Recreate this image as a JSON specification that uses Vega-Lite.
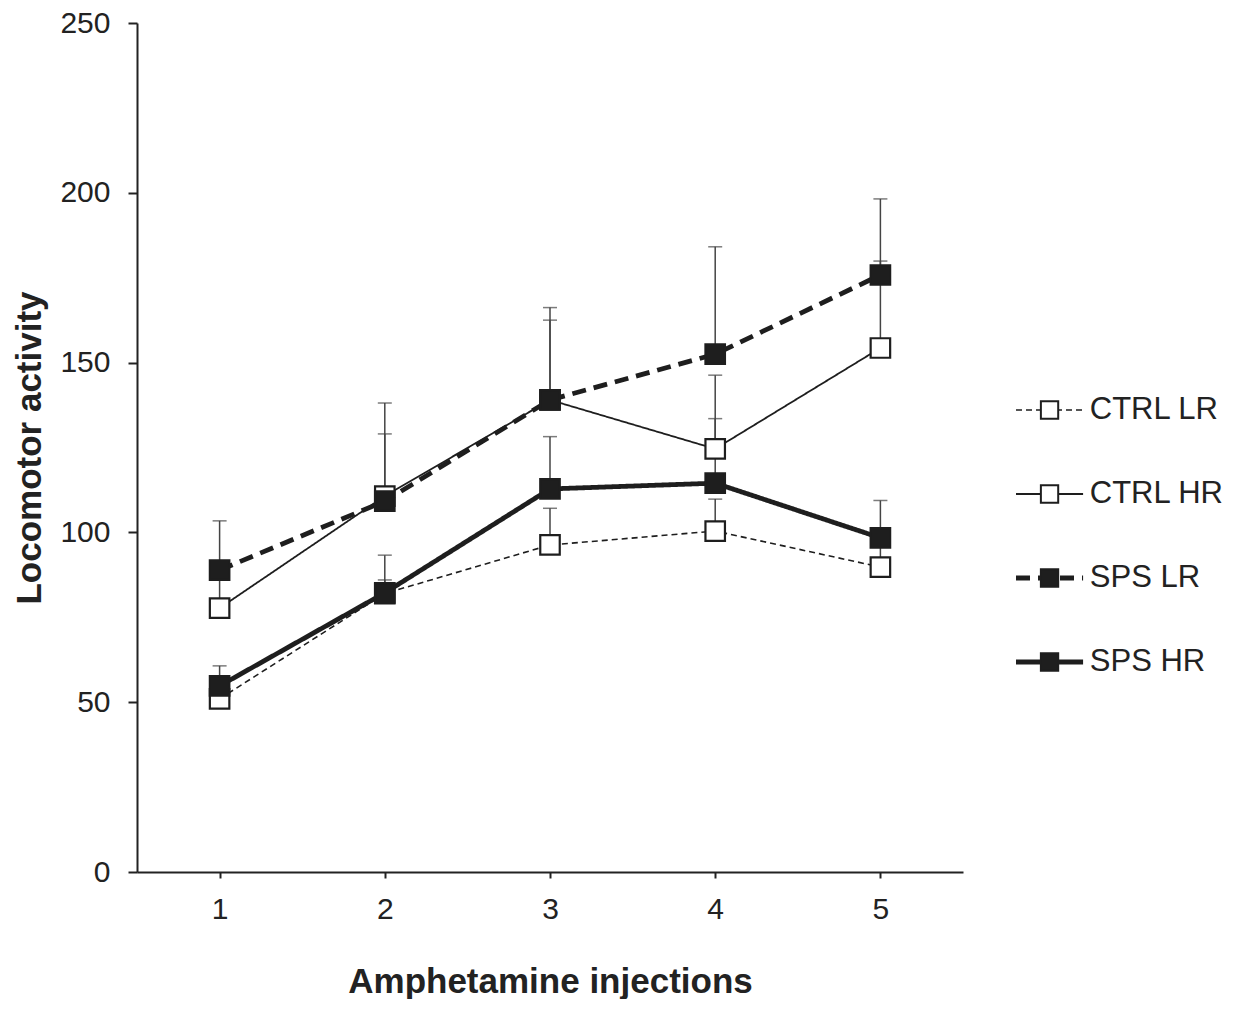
{
  "$schema": "https://vega.github.io/schema/vega-lite/v6.json",
  "padding": {"left": 12, "top": 8, "right": 0, "bottom": 0},
  "autosize": {"type": "pad"},
  "config": {"view": {"stroke": null}, "font": "Liberation Sans", "concat": {"spacing": 50}},
  "datasets": {
    "d": [
      {"inj": 1, "series": "CTRL LR", "mean": 51.0, "upper": 54.0},
      {"inj": 1, "series": "CTRL HR", "mean": 77.7, "upper": 87.0},
      {"inj": 1, "series": "SPS LR", "mean": 88.9, "upper": 103.4},
      {"inj": 1, "series": "SPS HR", "mean": 54.8, "upper": 60.7},
      {"inj": 2, "series": "CTRL LR", "mean": 82.0, "upper": 86.0},
      {"inj": 2, "series": "CTRL HR", "mean": 110.7, "upper": 129.0},
      {"inj": 2, "series": "SPS LR", "mean": 109.2, "upper": 138.1},
      {"inj": 2, "series": "SPS HR", "mean": 82.2, "upper": 93.3},
      {"inj": 3, "series": "CTRL LR", "mean": 96.3, "upper": 107.1},
      {"inj": 3, "series": "CTRL HR", "mean": 139.0, "upper": 162.5},
      {"inj": 3, "series": "SPS LR", "mean": 139.0, "upper": 166.2},
      {"inj": 3, "series": "SPS HR", "mean": 112.8, "upper": 128.2},
      {"inj": 4, "series": "CTRL LR", "mean": 100.4, "upper": 109.8},
      {"inj": 4, "series": "CTRL HR", "mean": 124.6, "upper": 146.3},
      {"inj": 4, "series": "SPS LR", "mean": 152.5, "upper": 184.1},
      {"inj": 4, "series": "SPS HR", "mean": 114.5, "upper": 133.5},
      {"inj": 5, "series": "CTRL LR", "mean": 89.8, "upper": 96.0},
      {"inj": 5, "series": "CTRL HR", "mean": 154.3, "upper": 179.9},
      {"inj": 5, "series": "SPS LR", "mean": 175.8, "upper": 198.2},
      {"inj": 5, "series": "SPS HR", "mean": 98.4, "upper": 109.4}
    ]
  },
  "hconcat": [
    {
      "width": 826,
      "height": 849,
      "data": {"name": "d"},
      "encoding": {
        "x": {
          "field": "inj", "type": "ordinal",
          "scale": {"type": "point", "padding": 0.5},
          "axis": {
            "title": "Amphetamine injections", "labelAngle": 0,
            "domainColor": "#222", "domainWidth": 2, "tickColor": "#222", "tickWidth": 2, "tickSize": 6,
            "labelFontSize": 30, "labelColor": "#222", "labelPadding": 16,
            "titleFontSize": 35, "titleFontWeight": "bold", "titleColor": "#222", "titlePadding": 40
          }
        }
      },
      "layer": [
        {
          "mark": {"type": "rule", "color": "#444", "strokeWidth": 1.5},
          "encoding": {
            "y": {
              "field": "mean", "type": "quantitative", "scale": {"domain": [0, 250], "nice": false},
              "axis": {
                "title": "Locomotor activity", "values": [0, 50, 100, 150, 200, 250], "grid": false,
                "domainColor": "#222", "domainWidth": 2, "tickColor": "#222", "tickWidth": 2, "tickSize": 9,
                "labelFontSize": 30, "labelColor": "#222", "labelPadding": 18,
                "titleFontSize": 35, "titleFontWeight": "bold", "titleColor": "#222", "titlePadding": 12
              }
            },
            "y2": {"field": "upper"}
          }
        },
        {
          "mark": {"type": "tick", "color": "#444", "thickness": 1.5, "size": 14, "orient": "horizontal"},
          "encoding": {"y": {"field": "upper", "type": "quantitative", "scale": {"domain": [0, 250], "nice": false}}}
        },
        {
          "mark": {"type": "line", "color": "#1e1e1e"},
          "encoding": {
            "y": {"field": "mean", "type": "quantitative", "scale": {"domain": [0, 250], "nice": false}},
            "strokeDash": {"field": "series", "type": "nominal", "legend": null,
              "scale": {"domain": ["CTRL LR", "CTRL HR", "SPS LR", "SPS HR"], "range": [[6, 4], [1, 0], [14, 8], [1, 0]]}},
            "strokeWidth": {"field": "series", "type": "nominal", "legend": null,
              "scale": {"type": "ordinal", "domain": ["CTRL LR", "CTRL HR", "SPS LR", "SPS HR"], "range": [1.6, 1.8, 4.8, 4.8]}}
          }
        },
        {
          "mark": {"type": "point", "shape": "square", "size": 380, "filled": true, "stroke": "#1e1e1e", "strokeWidth": 2.2, "opacity": 1},
          "encoding": {
            "y": {"field": "mean", "type": "quantitative", "scale": {"domain": [0, 250], "nice": false}},
            "fill": {"field": "series", "type": "nominal", "legend": null,
              "scale": {"domain": ["CTRL LR", "CTRL HR", "SPS LR", "SPS HR"], "range": ["white", "white", "#1e1e1e", "#1e1e1e"]}}
          }
        }
      ]
    },
    {
      "width": 230,
      "height": 849,
      "data": {"name": "d"},
      "transform": [{"filter": "datum.inj == 1"}],
      "encoding": {
        "y": {"field": "series", "type": "nominal", "axis": null,
          "scale": {"type": "point", "padding": 0, "domain": ["CTRL LR", "CTRL HR", "SPS LR", "SPS HR"], "range": [387, 639]}}
      },
      "layer": [
        {
          "mark": {"type": "rule", "color": "#1e1e1e"},
          "encoding": {
            "x": {"datum": 0, "type": "quantitative", "scale": {"domain": [0, 230]}, "axis": null},
            "x2": {"datum": 70},
            "strokeDash": {"field": "series", "type": "nominal", "legend": null,
              "scale": {"domain": ["CTRL LR", "CTRL HR", "SPS LR", "SPS HR"], "range": [[6, 4], [1, 0], [14, 8], [1, 0]]}},
            "strokeWidth": {"field": "series", "type": "nominal", "legend": null,
              "scale": {"type": "ordinal", "domain": ["CTRL LR", "CTRL HR", "SPS LR", "SPS HR"], "range": [1.6, 1.8, 4.8, 4.8]}}
          }
        },
        {
          "mark": {"type": "point", "shape": "square", "size": 300, "filled": true, "stroke": "#1e1e1e", "strokeWidth": 2, "opacity": 1},
          "encoding": {
            "x": {"datum": 35, "type": "quantitative"},
            "fill": {"field": "series", "type": "nominal", "legend": null,
              "scale": {"domain": ["CTRL LR", "CTRL HR", "SPS LR", "SPS HR"], "range": ["white", "white", "#1e1e1e", "#1e1e1e"]}}
          }
        },
        {
          "mark": {"type": "text", "align": "left", "baseline": "middle", "fontSize": 31, "color": "#222"},
          "encoding": {
            "x": {"datum": 77, "type": "quantitative"},
            "text": {"field": "series"}
          }
        }
      ]
    }
  ]
}
